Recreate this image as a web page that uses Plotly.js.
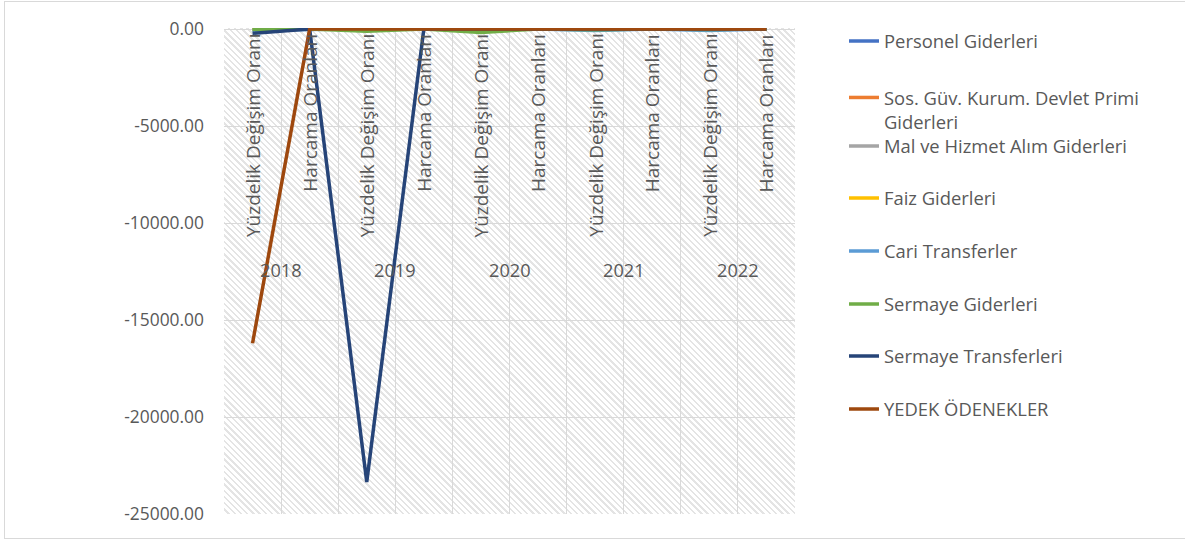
<!DOCTYPE html>
<html>
<head>
<meta charset="utf-8">
<script src="https://cdn.plot.ly/plotly-3.0.1.min.js"></script>
<style>
  html, body { margin: 0; padding: 0; background: #ffffff; }
  #wrap { position: relative; width: 1185px; height: 542px; overflow: hidden; background: #ffffff; }
  #frame { position: absolute; left: 4px; top: 1px; width: 1195px; height: 538px; border: 1px solid #d9d9d9; box-sizing: border-box; }
  #hatch { position: absolute; left: 224px; top: 28px; width: 571px; height: 486px;
    background: repeating-linear-gradient(45deg, #ffffff 0px, #ffffff 2.7px, #e4e4e4 2.7px, #e4e4e4 4.4px); }
  #chart { position: absolute; left: 0; top: 0; width: 1185px; height: 542px; }
</style>
</head>
<body>
<div id="wrap">
  <div id="frame"></div>
  <div id="hatch"></div>
  <div id="chart"></div>
</div>
<script>
// ---- data ----
const years = ['2018', '2019', '2020', '2021', '2022'];
const subCategories = ['Yüzdelik Değişim Oranı', 'Harcama Oranları'];
const seriesNames = [
  'Personel Giderleri',
  'Sos. Güv. Kurum. Devlet Primi<br>Giderleri',
  'Mal ve Hizmet Alım Giderleri',
  'Faiz Giderleri',
  'Cari Transferler',
  'Sermaye Giderleri',
  'Sermaye Transferleri',
  'YEDEK ÖDENEKLER'
];
const personelGiderleri      = [8.5, 0.45, 12.3, 0.47, 15.2, 0.46, 18.0, 0.44, 45.0, 0.48];
const sosGuvGiderleri        = [10.1, 0.06, 14.0, 0.06, 12.5, 0.06, 16.0, 0.05, 40.0, 0.06];
const malHizmetGiderleri     = [-5.0, 0.20, 20.0, 0.20, -10.0, 0.20, 25.0, 0.20, 60.0, 0.20];
const faizGiderleri          = [0, 0, 0, 0, 0, 0, 0, 0, 0, 0];
const cariTransferler        = [-60, 0.10, 15, 0.10, -20, 0.10, -80, 0.10, -80, 0.10];
const sermayeGiderleri       = [-30, 0.10, -110, 0.10, -180, 0.05, -40, 0.05, -30, 0.05];
const sermayeTransferleri    = [-220, 0.01, -23350, 0.01, 0, 0.01, 0, 0.01, 0, 0.01];
const yedekOdenekler         = [-16200, 0.00, 0, 0.00, 0, 0.00, 0, 0.00, 0, 0.00];
const seriesValues = [personelGiderleri, sosGuvGiderleri, malHizmetGiderleri, faizGiderleri,
                      cariTransferler, sermayeGiderleri, sermayeTransferleri, yedekOdenekler];
const seriesColors = ['#4472C4', '#ED7D31', '#A5A5A5', '#FFC000', '#5B9BD5', '#70AD47', '#264478', '#9E480E'];
const yTicks = [0, -5000, -10000, -15000, -20000, -25000];

// ---- build ----
const FONT = '"Open Sans", "DejaVu Sans", sans-serif';
const TXT = '#595959';
const xs = [];
const xLabels = [];
years.forEach((y, i) => subCategories.forEach((s, j) => { xs.push(i * subCategories.length + j); xLabels.push(s); }));
const nCat = xs.length;

const W = 1185, H = 542;
const mL = 224, mR = W - 795, mT = 28, mB = H - 514;
const plotH = H - mT - mB;
const legendX = (844 - mL) / (W - mL - mR);
const legendYpx = [41, 93, 146, 198, 251, 304, 356, 409];

const traces = seriesNames.map((name, k) => ({
  type: 'scatter', mode: 'lines', name: name,
  x: xs, y: seriesValues[k],
  line: { color: seriesColors[k], width: 3.5 },
  legend: k === 0 ? 'legend' : 'legend' + (k + 1),
  hoverinfo: 'x+y+name'
}));

const layout = {
  width: W, height: H,
  margin: { l: mL, r: mR, t: mT, b: mB, pad: 0 },
  paper_bgcolor: 'rgba(0,0,0,0)',
  plot_bgcolor: 'rgba(0,0,0,0)',
  font: { family: FONT, size: 18, color: TXT },
  xaxis: {
    range: [-0.5, nCat - 0.5],
    tickvals: Array.from({ length: nCat + 1 }, (_, i) => i - 0.5),
    showticklabels: false, ticks: '',
    showgrid: true, gridcolor: '#d9d9d9', gridwidth: 1,
    zeroline: false, showline: false, fixedrange: true
  },
  yaxis: {
    range: [-25000, 25000 / 485],
    tickvals: yTicks,
    ticktext: yTicks.map(v => v.toFixed(2)),
    ticklabelstandoff: 19,
    tickfont: { family: FONT, size: 17.4, color: TXT },
    showgrid: true, gridcolor: '#d9d9d9', gridwidth: 1,
    zeroline: true, zerolinecolor: '#d9d9d9', zerolinewidth: 1,
    showline: false, ticks: '', fixedrange: true
  },
  annotations: [],
  showlegend: true
};

// category labels (inner level, rotated) and years (outer level)
xs.forEach((x, i) => {
  layout.annotations.push({
    x: x, y: 0, xref: 'x', yref: 'y', text: xLabels[i], textangle: -90,
    showarrow: false, xanchor: 'center', yanchor: 'top', yshift: -3,
    font: { family: FONT, size: 19, color: TXT }
  });
});
years.forEach((y, i) => {
  layout.annotations.push({
    x: i * subCategories.length + (subCategories.length - 1) / 2, y: (514 - 270) / plotH,
    xref: 'x', yref: 'paper', text: y, showarrow: false,
    xanchor: 'center', yanchor: 'middle',
    font: { family: FONT, size: 18.2, color: TXT }
  });
});

// one legend per series so each entry sits at its own position
seriesNames.forEach((name, k) => {
  const key = k === 0 ? 'legend' : 'legend' + (k + 1);
  const twoLine = name.indexOf('<br>') >= 0;
  layout[key] = {
    x: legendX, xanchor: 'left',
    y: twoLine ? (mT + plotH - (legendYpx[k] - 14)) / plotH : (mT + plotH - legendYpx[k]) / plotH,
    yanchor: twoLine ? 'top' : 'middle',
    valign: 'top',
    bgcolor: 'rgba(0,0,0,0)', borderwidth: 0,
    font: { family: FONT, size: 18.4, color: TXT },
    itemclick: false, itemdoubleclick: false
  };
});

Plotly.newPlot('chart', traces, layout, { displayModeBar: false, staticPlot: true });
</script>
</body>
</html>
